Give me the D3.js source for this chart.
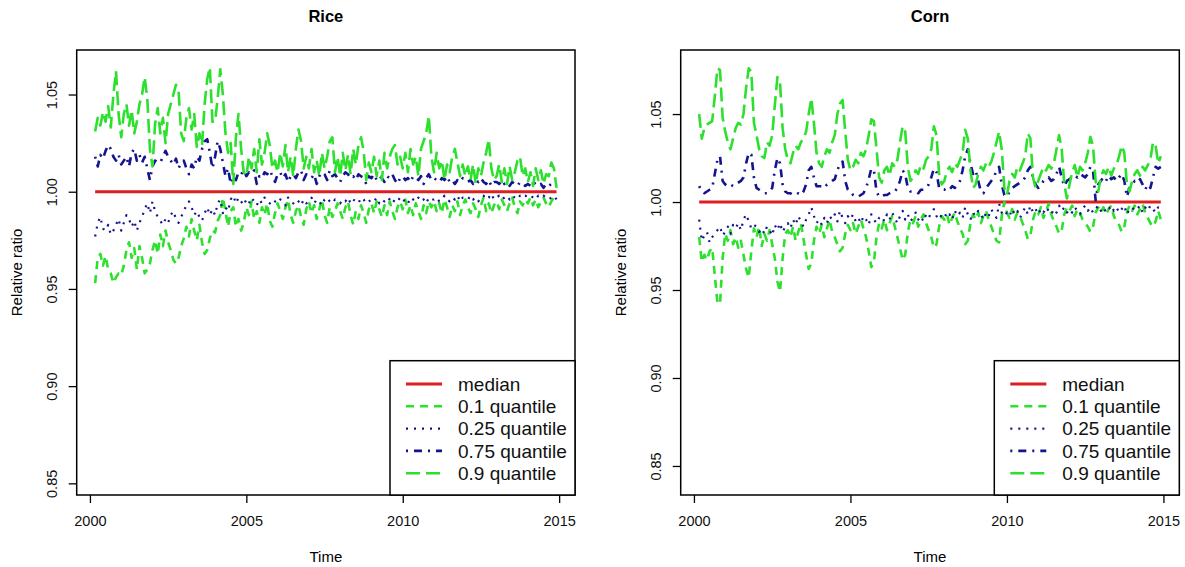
<!DOCTYPE html>
<html>
<head>
<meta charset="utf-8">
<script src="https://cdn.jsdelivr.net/npm/d3@7"></script>
<style>
body { margin: 0; background: #fff; }
svg { font-family: "Liberation Sans", Arial, sans-serif; }
</style>
</head>
<body>
<svg width="1185" height="567"></svg>
<script>
// monthly series, March 2000 .. December 2014 (one row per year)
var startYear = 2000, startMonth = 3;
var xTicks = [2000, 2005, 2010, 2015];
var yTicks = [0.85, 0.90, 0.95, 1.00, 1.05];
var medianLevel = 1.0;
var legendLabels = ["median", "0.1 quantile", "0.25 quantile", "0.75 quantile", "0.9 quantile"];

var riceQ90 = [
  1.031,1.038,1.034,1.041,1.036,1.044,1.033,1.050,1.062,1.040,
  1.028,1.040,1.045,1.034,1.042,1.030,1.036,1.045,1.050,1.059,1.048,1.022,
  1.013,1.035,1.043,1.030,1.038,1.025,1.040,1.045,1.050,1.055,1.052,1.030,
  1.026,1.038,1.043,1.032,1.040,1.023,1.030,1.024,1.045,1.058,1.064,1.036,
  1.036,1.048,1.063,1.050,1.030,1.020,1.025,1.004,1.028,1.040,1.022,1.010,
  1.008,1.018,1.012,1.022,1.010,1.027,1.014,1.020,1.030,1.024,1.012,1.016,
  1.010,1.020,1.013,1.024,1.010,1.018,1.008,1.022,1.032,1.026,1.012,1.018,
  1.012,1.022,1.010,1.016,1.008,1.020,1.012,1.018,1.026,1.028,1.010,1.018,
  1.008,1.020,1.011,1.019,1.009,1.022,1.014,1.024,1.028,1.021,1.006,1.015,
  1.010,1.018,1.008,1.016,1.006,1.020,1.012,1.018,1.022,1.024,1.014,1.018,
  1.012,1.020,1.010,1.022,1.014,1.018,1.008,1.022,1.026,1.030,1.039,1.018,
  1.010,1.020,1.012,1.016,1.006,1.014,1.010,1.018,1.022,1.015,1.008,1.014,
  1.008,1.013,1.006,1.014,1.004,1.012,1.008,1.015,1.020,1.027,1.012,1.006,
  1.008,1.014,1.005,1.012,1.004,1.013,1.006,1.010,1.016,1.018,1.008,1.012,
  1.005,1.010,1.003,1.012,1.006,1.011,1.004,1.009,1.008,1.015,1.012,1.002
];
var riceQ75 = [
  1.018,1.013,1.019,1.017,1.021,1.024,1.022,1.018,1.016,1.019,
  1.014,1.016,1.018,1.013,1.020,1.022,1.016,1.019,1.015,1.018,1.012,1.006,
  1.013,1.016,1.015,1.015,1.018,1.021,1.018,1.016,1.014,1.017,1.012,1.015,
  1.016,1.012,1.009,1.014,1.012,1.018,1.016,1.022,1.026,1.027,1.020,1.012,
  1.018,1.026,1.022,1.015,1.008,1.012,1.004,1.008,1.006,1.010,1.009,1.011,
  1.008,1.010,1.009,1.011,1.004,1.008,1.007,1.010,1.009,1.011,1.008,1.005,
  1.009,1.010,1.007,1.009,1.005,1.008,1.009,1.007,1.010,1.011,1.006,1.009,
  1.008,1.007,1.009,1.004,1.008,1.010,1.009,1.006,1.011,1.008,1.009,1.007,
  1.005,1.008,1.010,1.009,1.007,1.008,1.006,1.009,1.008,1.007,1.004,1.008,
  1.007,1.009,1.006,1.008,1.007,1.005,1.008,1.007,1.009,1.006,1.004,1.007,
  1.008,1.006,1.007,1.005,1.008,1.007,1.006,1.008,1.004,1.007,1.009,1.006,
  1.007,1.006,1.005,1.007,1.006,1.008,1.005,1.006,1.004,1.006,1.005,1.007,
  1.006,1.005,1.006,1.004,1.006,1.005,1.007,1.005,1.004,1.006,1.003,1.005,
  1.005,1.004,1.006,1.004,1.005,1.003,1.005,1.004,1.003,1.005,1.004,1.003,
  1.004,1.003,1.005,1.004,1.003,1.004,1.002,1.004,1.003,1.004,1.003,1.004
];
var riceQ25 = [
  0.977,0.984,0.987,0.981,0.980,0.983,0.978,0.980,0.983,0.986,
  0.980,0.984,0.988,0.986,0.982,0.985,0.980,0.984,0.987,0.991,0.994,0.989,
  0.995,0.990,0.987,0.985,0.983,0.986,0.984,0.988,0.990,0.986,0.984,0.987,
  0.990,0.993,0.995,0.992,0.988,0.990,0.987,0.985,0.989,0.992,0.988,0.991,
  0.988,0.994,0.996,0.989,0.992,0.990,0.996,0.998,0.994,0.997,0.995,0.993,
  0.996,0.994,0.997,0.995,0.993,0.996,0.994,0.997,0.995,0.994,0.996,0.995,
  0.994,0.996,0.995,0.993,0.997,0.995,0.994,0.996,0.995,0.993,0.996,0.994,
  0.995,0.997,0.994,0.996,0.995,0.993,0.996,0.997,0.995,0.994,0.996,0.995,
  0.994,0.996,0.995,0.997,0.994,0.996,0.995,0.994,0.997,0.996,0.994,0.995,
  0.996,0.995,0.997,0.994,0.996,0.995,0.997,0.996,0.994,0.996,0.995,0.997,
  0.995,0.996,0.994,0.997,0.996,0.995,0.997,0.995,0.996,0.994,0.997,0.996,
  0.996,0.997,0.995,0.996,0.998,0.996,0.995,0.997,0.996,0.998,0.995,0.997,
  0.997,0.996,0.998,0.996,0.997,0.995,0.997,0.998,0.996,0.997,0.999,0.996,
  0.997,0.998,0.996,0.997,0.998,0.996,0.998,0.997,0.996,0.998,0.997,0.998,
  0.997,0.998,0.997,0.996,0.998,0.997,0.998,0.997,0.996,0.997,0.998,0.996
];
var riceQ10 = [
  0.953,0.966,0.968,0.962,0.967,0.960,0.958,0.953,0.956,0.958,
  0.957,0.962,0.970,0.974,0.966,0.971,0.960,0.972,0.966,0.958,0.960,0.963,
  0.970,0.975,0.968,0.978,0.972,0.980,0.974,0.970,0.965,0.963,0.966,0.972,
  0.976,0.982,0.977,0.986,0.980,0.975,0.983,0.974,0.968,0.970,0.976,0.980,
  0.979,0.985,0.988,0.997,0.990,0.982,0.990,0.992,0.982,0.986,0.980,0.984,
  0.992,0.988,0.995,0.986,0.990,0.984,0.992,0.988,0.994,0.985,0.982,0.989,
  0.994,0.990,0.986,0.992,0.996,0.988,0.984,0.990,0.993,0.987,0.983,0.991,
  0.995,0.989,0.993,0.986,0.991,0.996,0.988,0.984,0.992,0.987,0.990,0.994,
  0.990,0.986,0.992,0.995,0.988,0.983,0.990,0.986,0.993,0.989,0.984,0.991,
  0.994,0.989,0.995,0.991,0.987,0.993,0.988,0.995,0.990,0.986,0.992,0.995,
  0.991,0.996,0.989,0.993,0.988,0.994,0.990,0.986,0.993,0.989,0.995,0.992,
  0.995,0.990,0.994,0.989,0.996,0.992,0.987,0.993,0.990,0.995,0.988,0.993,
  0.996,0.992,0.989,0.994,0.991,0.987,0.993,0.997,0.990,0.994,0.989,0.993,
  0.995,0.991,0.996,0.993,0.990,0.994,0.997,0.992,0.989,0.995,0.993,0.996,
  0.994,0.997,0.993,0.996,0.992,0.995,0.997,0.994,0.992,0.995,0.997,0.995
];

var cornQ90 = [
  1.050,1.036,1.042,1.044,1.045,1.046,1.060,1.076,1.075,1.048,
  1.040,1.034,1.030,1.036,1.042,1.045,1.044,1.050,1.065,1.076,1.074,1.045,
  1.038,1.030,1.026,1.025,1.034,1.032,1.038,1.055,1.071,1.068,1.042,1.030,
  1.024,1.022,1.028,1.032,1.030,1.034,1.036,1.040,1.050,1.059,1.045,1.028,
  1.022,1.020,1.026,1.030,1.028,1.034,1.038,1.050,1.056,1.058,1.040,1.024,
  1.018,1.020,1.024,1.022,1.028,1.026,1.030,1.038,1.047,1.046,1.030,1.014,
  1.011,1.018,1.020,1.015,1.022,1.020,1.024,1.034,1.043,1.040,1.020,1.012,
  1.014,1.018,1.016,1.021,1.019,1.024,1.026,1.030,1.043,1.038,1.016,1.010,
  1.012,1.018,1.020,1.017,1.022,1.020,1.024,1.028,1.041,1.036,1.018,1.008,
  1.010,1.016,1.020,1.018,1.022,1.020,1.023,1.028,1.034,1.040,1.030,1.008,
  1.004,1.012,1.016,1.014,1.020,1.018,1.022,1.026,1.039,1.036,1.014,1.008,
  1.012,1.016,1.020,1.018,1.021,1.019,1.022,1.030,1.038,1.030,1.010,1.002,
  1.010,1.017,1.021,1.014,1.020,1.018,1.022,1.028,1.037,1.032,1.012,1.006,
  1.014,1.018,1.016,1.020,1.015,1.019,1.021,1.026,1.032,1.028,1.010,1.006,
  1.012,1.016,1.018,1.015,1.020,1.018,1.021,1.024,1.034,1.032,1.022,1.026
];
var cornQ75 = [
  1.009,1.006,1.005,1.006,1.007,1.008,1.016,1.024,1.026,1.012,
  1.010,1.009,1.010,1.009,1.010,1.011,1.012,1.014,1.022,1.028,1.027,1.014,
  1.008,1.007,1.006,1.005,1.005,1.006,1.008,1.018,1.025,1.022,1.010,1.006,
  1.005,1.005,1.004,1.004,1.005,1.004,1.006,1.010,1.018,1.020,1.014,1.009,
  1.009,1.009,1.008,1.010,1.011,1.012,1.013,1.018,1.022,1.023,1.012,1.007,
  1.006,1.004,1.003,1.003,1.004,1.005,1.008,1.013,1.019,1.018,1.006,1.003,
  1.003,1.004,1.004,1.005,1.006,1.006,1.008,1.012,1.018,1.016,1.008,1.006,
  1.006,1.006,1.005,1.007,1.007,1.008,1.010,1.014,1.019,1.017,1.008,1.007,
  1.007,1.008,1.007,1.009,1.008,1.010,1.012,1.018,1.026,1.030,1.022,1.016,
  1.018,1.012,1.006,1.005,1.008,1.010,1.012,1.014,1.018,1.020,1.010,1.004,
  1.003,1.006,1.008,1.009,1.010,1.011,1.012,1.014,1.018,1.020,1.014,1.010,
  1.008,1.009,1.012,1.013,1.014,1.012,1.013,1.016,1.020,1.014,1.009,1.012,
  1.013,1.014,1.015,1.014,1.016,1.015,1.014,1.016,1.020,1.018,1.001,1.010,
  1.012,1.014,1.012,1.015,1.013,1.014,1.012,1.014,1.016,1.012,1.003,1.008,
  1.010,1.012,1.011,1.013,1.010,1.007,1.010,1.008,1.014,1.020,1.019,1.020
];
var cornQ25 = [
  0.990,0.978,0.981,0.983,0.977,0.980,0.982,0.984,0.986,0.981,
  0.983,0.986,0.982,0.987,0.985,0.988,0.984,0.990,0.993,0.989,0.985,0.987,
  0.986,0.983,0.985,0.982,0.986,0.984,0.981,0.987,0.984,0.988,0.983,0.986,
  0.988,0.985,0.990,0.987,0.992,0.989,0.986,0.990,0.993,0.997,0.992,0.988,
  0.990,0.987,0.991,0.988,0.992,0.990,0.993,0.989,0.995,0.991,0.988,0.992,
  0.990,0.993,0.989,0.991,0.988,0.992,0.990,0.987,0.993,0.990,0.988,0.991,
  0.992,0.989,0.993,0.990,0.994,0.991,0.988,0.992,0.995,0.990,0.993,0.989,
  0.991,0.994,0.990,0.992,0.989,0.993,0.991,0.994,0.996,0.992,0.990,0.993,
  0.994,0.991,0.993,0.990,0.995,0.992,0.994,0.991,0.997,0.993,0.990,0.994,
  0.992,0.995,0.993,0.990,0.994,0.992,0.996,0.993,0.991,0.999,0.994,0.992,
  0.994,0.992,0.996,0.993,0.995,0.991,0.994,0.997,0.993,0.998,0.994,0.996,
  0.993,0.996,0.994,0.997,0.995,0.993,0.996,0.994,0.998,0.995,0.997,0.994,
  0.996,0.994,0.997,0.995,0.993,0.996,0.998,0.995,0.997,0.994,0.996,0.998,
  0.995,0.997,0.994,0.996,0.998,0.995,0.997,0.994,0.996,0.998,0.993,0.996,
  0.997,0.995,0.996,0.998,0.994,0.997,0.995,0.998,0.996,0.994,0.997,0.996
];
var cornQ10 = [
  0.980,0.966,0.970,0.967,0.972,0.974,0.958,0.943,0.942,0.968,
  0.982,0.978,0.984,0.976,0.980,0.974,0.978,0.970,0.962,0.957,0.972,0.985,
  0.980,0.986,0.975,0.982,0.978,0.984,0.976,0.968,0.955,0.949,0.968,0.982,
  0.984,0.980,0.986,0.978,0.983,0.988,0.979,0.970,0.962,0.965,0.978,0.986,
  0.982,0.987,0.980,0.985,0.990,0.983,0.980,0.976,0.972,0.974,0.982,0.987,
  0.984,0.988,0.982,0.986,0.990,0.985,0.980,0.972,0.963,0.966,0.980,0.988,
  0.985,0.990,0.984,0.988,0.992,0.986,0.980,0.974,0.967,0.970,0.983,0.990,
  0.988,0.992,0.986,0.990,0.993,0.988,0.984,0.980,0.974,0.976,0.986,0.992,
  0.990,0.993,0.987,0.991,0.994,0.989,0.985,0.982,0.976,0.978,0.988,0.993,
  0.990,0.994,0.988,0.992,0.995,0.990,0.986,0.982,0.978,0.977,0.992,1.000,
  0.994,0.991,0.996,0.990,0.994,0.992,0.988,0.984,0.979,0.981,0.990,0.995,
  0.993,0.997,0.991,0.995,0.999,0.993,0.989,0.986,0.982,0.984,0.993,0.997,
  0.995,0.998,0.992,0.996,0.994,0.990,0.988,0.986,0.983,0.986,0.994,0.997,
  0.994,0.997,0.993,0.996,0.998,0.992,0.989,0.987,0.983,0.986,0.994,0.998,
  0.995,0.998,0.993,0.996,0.999,0.994,0.991,0.988,0.986,0.989,0.995,0.990
];

var RED = "#dd1f1f", GREEN = "#2ee02e", BLUE = "#14148f";

// legend order: median, q10, q25, q75, q90
var estilos = [
  { color: RED,   width: 3,   dash: null },
  { color: GREEN, width: 2.6, dash: "8,6" },
  { color: BLUE,  width: 2.2, dash: "2,6" },
  { color: BLUE,  width: 2.6, dash: "2,6,8,6" },
  { color: GREEN, width: 2.6, dash: "14,6" }
];

var paneles = [
  { title: "Rice", series: [riceQ10, riceQ25, riceQ75, riceQ90],
    left: 76.7, right: 575, yDomain: [0.844, 1.0729] },
  { title: "Corn", series: [cornQ10, cornQ25, cornQ75, cornQ90],
    left: 680.7, right: 1179.3, yDomain: [0.8335, 1.0864] }
];

var top_ = 50, bottom_ = 495;
var svg = d3.select("svg");

function mesATiempo(i) {
  return startYear + (startMonth - 1 + i) / 12;
}

paneles.forEach(function(p) {
  var x = d3.scaleLinear().domain([1999.577, 2015.507]).range([p.left, p.right]);
  var y = d3.scaleLinear().domain(p.yDomain).range([bottom_, top_]);
  var g = svg.append("g");
  var n = p.series[0].length;

  // median line first
  g.append("line")
    .attr("x1", x(mesATiempo(0))).attr("x2", x(mesATiempo(n - 1)))
    .attr("y1", y(medianLevel)).attr("y2", y(medianLevel))
    .attr("stroke", estilos[0].color).attr("stroke-width", estilos[0].width);

  var linea = d3.line()
    .x(function(d, i) { return x(mesATiempo(i)); })
    .y(function(d) { return y(d); });

  p.series.forEach(function(s, k) {
    var e = estilos[k + 1];
    g.append("path")
      .attr("d", linea(s))
      .attr("fill", "none")
      .attr("stroke", e.color)
      .attr("stroke-width", e.width)
      .attr("stroke-dasharray", e.dash)
      .attr("stroke-linejoin", "round");
  });

  // box
  g.append("rect")
    .attr("x", p.left).attr("y", top_)
    .attr("width", p.right - p.left).attr("height", bottom_ - top_)
    .attr("fill", "none").attr("stroke", "#000").attr("stroke-width", 1.5);

  // axes
  var ax = g.append("g").attr("transform", "translate(0," + bottom_ + ")")
    .call(d3.axisBottom(x).tickValues(xTicks).tickFormat(d3.format("d"))
      .tickSize(8).tickPadding(13));
  var ay = g.append("g").attr("transform", "translate(" + p.left + ",0)")
    .call(d3.axisLeft(y).tickValues(yTicks).tickFormat(d3.format(".2f")).tickSize(8));
  [ax, ay].forEach(function(a) {
    a.select(".domain").remove();
    a.selectAll(".tick line").attr("stroke", "#000").attr("stroke-width", 1.3);
    a.selectAll("text").attr("font-size", 14.5).attr("fill", "#111")
      .attr("font-family", "Liberation Sans, Arial, sans-serif");
  });
  ay.selectAll("text")
    .attr("x", null).attr("dy", "0.35em")
    .attr("text-anchor", "middle")
    .attr("transform", "translate(-25,0) rotate(-90)");

  // titles
  g.append("text").text(p.title)
    .attr("x", (p.left + p.right) / 2).attr("y", 22)
    .attr("text-anchor", "middle").attr("font-weight", "bold").attr("font-size", 16.5);
  g.append("text").text("Time")
    .attr("x", (p.left + p.right) / 2).attr("y", 562)
    .attr("text-anchor", "middle").attr("font-size", 15);
  g.append("text").text("Relative ratio")
    .attr("transform", "translate(" + (p.left - 60) + "," + ((top_ + bottom_) / 2) + ") rotate(-90)")
    .attr("dy", "0.35em")
    .attr("text-anchor", "middle").attr("font-size", 15);

  // legend
  var lx = p.right - 185, ly = 360.7;
  var leg = g.append("g");
  leg.append("rect")
    .attr("x", lx).attr("y", ly).attr("width", p.right - lx).attr("height", bottom_ - ly)
    .attr("fill", "#fff").attr("stroke", "#000").attr("stroke-width", 1.5);
  legendLabels.forEach(function(lab, k) {
    var yy = 384 + k * 22.3;
    var e = estilos[k];
    leg.append("line")
      .attr("x1", lx + 16).attr("x2", lx + 52).attr("y1", yy).attr("y2", yy)
      .attr("stroke", e.color).attr("stroke-width", e.width)
      .attr("stroke-dasharray", e.dash);
    leg.append("text").text(lab)
      .attr("x", lx + 68).attr("y", yy).attr("dy", "0.35em")
      .attr("font-size", 19).attr("fill", "#111");
  });
});
</script>
</body>
</html>
